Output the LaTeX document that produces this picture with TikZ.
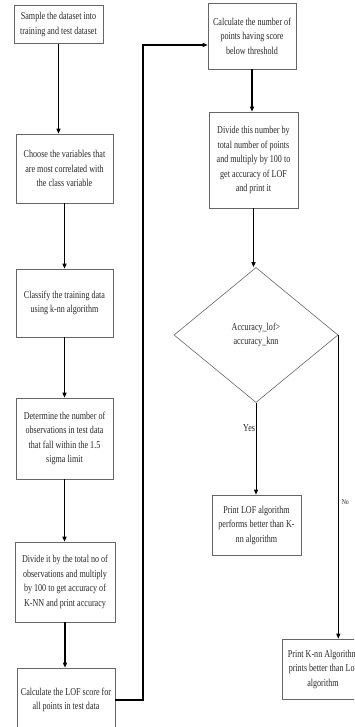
\documentclass[tikz,border=0pt]{standalone}
\usepackage{fontspec}
\setmainfont{Liberation Serif}[FakeStretch=0.77]
\usetikzlibrary{arrows.meta,shapes.geometric}

\begin{document}
\begin{tikzpicture}[x=1pt, y=-1pt,
	box/.style={draw=black!60, line width=0.6pt, align=center, inner sep=2pt, text=black!85,
		font=\fontsize{10.5}{14.5}\selectfont},
	decision/.style={diamond, draw=black!60, line width=0.6pt, align=center, inner sep=0pt, text=black!85,
		font=\fontsize{10.5}{14.5}\selectfont},
	flow/.style={line width=1.4pt, -{Triangle[length=5pt, width=4pt]}},
	branch/.style={line width=1pt, -{Triangle[length=5pt, width=4pt]}}]

	\useasboundingbox (0,0) rectangle (354,727);
	\clip (0,0) rectangle (354,727);

	\node[box, minimum width=89pt, minimum height=38pt] (sample) at (58.5,24.5) {Sample the dataset into\\training and test dataset};
	\node[box, minimum width=97pt, minimum height=69pt] (choose) at (64.5,168.5) {Choose the variables that\\are most correlated with\\the class variable};
	\node[box, minimum width=97pt, minimum height=68pt] (classify) at (64.5,303) {Classify the training data\\using k-nn algorithm};
	\node[box, minimum width=97pt, minimum height=81pt] (determine) at (64.5,438.5) {Determine the number of\\observations in test data\\that fall within the 1.5\\sigma limit};
	\node[box, minimum width=100pt, minimum height=80pt] (divideknn) at (65,582) {Divide it by the total no of\\observations and multiply\\by 100 to get accuracy of\\K-NN and print accuracy};
	\node[box, minimum width=98pt, minimum height=64pt] (lofscore) at (66,700) {Calculate the LOF score for\\all points in test data};

	\node[box, minimum width=88pt, minimum height=66pt] (countbelow) at (252,36) {Calculate the number of\\points having score\\below threshold};
	\node[box, minimum width=89pt, minimum height=96pt] (dividelof) at (253.5,160) {Divide this number by\\total number of points\\and multiply by 100 to\\get accuracy of LOF\\and print it};
	\node[decision, minimum width=164pt, minimum height=135pt] (compare) at (256,335) {Accuracy\_lof>\\accuracy\_knn};
	\node[box, minimum width=89pt, minimum height=60pt] (lofbetter) at (256.5,525) {Print LOF algorithm\\performs better than K-\\nn algorithm};
	\node[box, minimum width=82pt, minimum height=60pt] (knnbetter) at (323,669) {Print K-nn Algorithm\\prints better than Lof\\algorithm};

	\coordinate (up) at (143,45);

	\draw[flow] (sample.south) -- (sample.south |- choose.north);
	\draw[flow] (choose.south) -- (choose.south |- classify.north);
	\draw[flow] (classify.south) -- (classify.south |- determine.north);
	\draw[flow] (determine.south) -- (determine.south |- divideknn.north);
	\draw[flow] (divideknn.south) -- (divideknn.south |- lofscore.north);
	\draw[flow] (lofscore.east) -| (up) -- (up -| countbelow.west);
	\draw[flow] (countbelow.south) -- (countbelow.south |- dividelof.north);
	\draw[flow] (dividelof.south) -- (dividelof.south |- compare.north);

	\draw[branch] (compare.south) -- (compare.south |- lofbetter.north)
		node[left, pos=0.28, inner sep=0.5pt, font=\fontsize{10.5}{12}\selectfont, text=black!85] (yes) {Yes};
	\draw[branch] (compare.east) -- (compare.east |- knnbetter.north)
		node[right, pos=0.55, inner sep=3pt, font=\fontsize{7.5}{9}\selectfont, text=black!85] (no) {No};

\end{tikzpicture}
\end{document}
